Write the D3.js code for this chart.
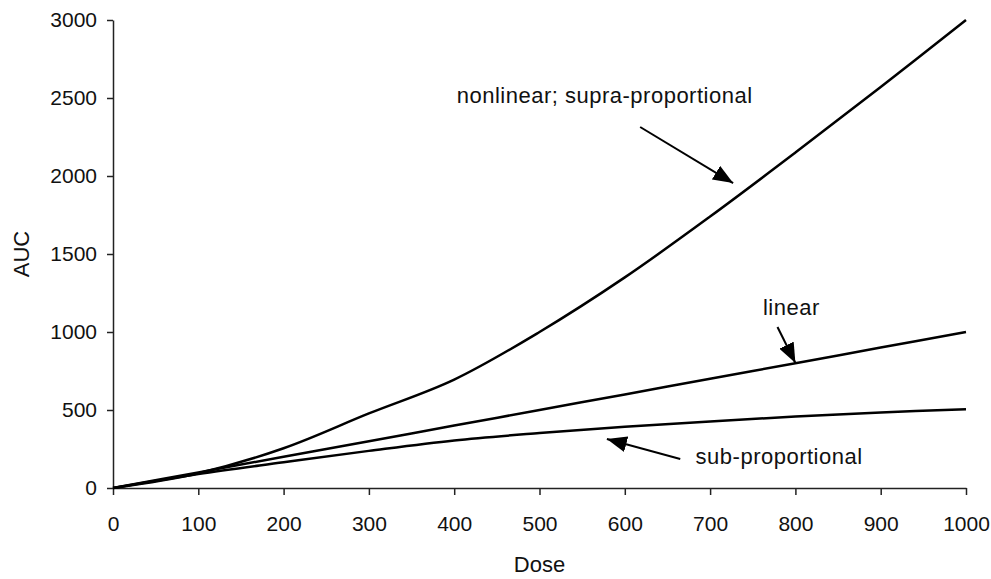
<!DOCTYPE html>
<html>
<head>
<meta charset="utf-8">
<script src="https://cdn.jsdelivr.net/npm/d3@7"></script>
<style>
    body { margin: 0; background: #fff; }
    svg { display: block; }
    text { font-family: Arial, "Liberation Sans", sans-serif; fill: #111; }
</style>
</head>
<body>
<svg width="991" height="579"></svg>
<script>
// dose levels and AUC
var doses = [0, 100, 200, 300, 400, 500, 600, 700, 800, 900, 1000];
var linearAUC = [0, 100, 200, 300, 400, 500, 600, 700, 800, 900, 1000];
var supraAUC = [0, 95, 255, 478, 695, 1000, 1350, 1740, 2150, 2570, 3000];
var subAUC = [0, 90, 165, 238, 305, 352, 392, 427, 458, 484, 505];

var xTicks = [0, 100, 200, 300, 400, 500, 600, 700, 800, 900, 1000];
var yTicks = [0, 500, 1000, 1500, 2000, 2500, 3000];

// annotations: label position, arrow start, arrow tip (dose, AUC)
var notes = [
    {label: "nonlinear; supra-proportional", lx: 403, ly: 2468, x1: 618, y1: 2314, x2: 727, y2: 1955},
    {label: "linear", lx: 762, ly: 1109, x1: 779, y1: 1032, x2: 800, y2: 801},
    {label: "sub-proportional", lx: 683, ly: 154, x1: 665, y1: 186, x2: 579, y2: 314}
];

var svg = d3.select("svg"),
    margin = {top: 20, right: 25, bottom: 91, left: 113},
    width = +svg.attr("width") - margin.left - margin.right,
    height = +svg.attr("height") - margin.top - margin.bottom;

var g = svg.append("g").attr("transform", "translate(" + margin.left + "," + margin.top + ")");

var x = d3.scaleLinear().domain([0, 1000]).range([0, width]);
var y = d3.scaleLinear().domain([0, 3000]).range([height, 0]);

var xAxis = g.append("g")
    .attr("transform", "translate(0," + height + ")")
    .call(d3.axisBottom(x).tickValues(xTicks).tickFormat(d3.format("d"))
        .tickSize(7).tickSizeOuter(0).tickPadding(21));

var yAxis = g.append("g")
    .call(d3.axisLeft(y).tickValues(yTicks).tickFormat(d3.format("d"))
        .tickSize(6).tickSizeOuter(0).tickPadding(10));

[xAxis, yAxis].forEach(function(a) {
    a.selectAll("path, line").attr("stroke", "#222").attr("stroke-width", 1.5);
    a.selectAll("text").style("font-size", "21px").attr("fill", "#111");
});

// axis titles
svg.append("text")
    .attr("x", margin.left + width / 2)
    .attr("y", 572)
    .attr("text-anchor", "middle")
    .style("font-size", "22px")
    .text("Dose");

svg.append("text")
    .attr("transform", "translate(29," + (margin.top + height / 2) + ") rotate(-90)")
    .attr("text-anchor", "middle")
    .style("font-size", "22px")
    .text("AUC");

var line = d3.line()
    .x(function(d) { return x(d[0]); })
    .y(function(d) { return y(d[1]); })
    .curve(d3.curveCatmullRom.alpha(0.5));

[supraAUC, linearAUC, subAUC].forEach(function(s) {
    g.append("path")
        .datum(doses.map(function(d, i) { return [d, s[i]]; }))
        .attr("fill", "none")
        .attr("stroke", "#000")
        .attr("stroke-width", 2.5)
        .attr("d", line);
});

svg.append("defs").append("marker")
    .attr("id", "head")
    .attr("markerUnits", "userSpaceOnUse")
    .attr("viewBox", "0 0 20 16")
    .attr("refX", 20)
    .attr("refY", 8)
    .attr("markerWidth", 20)
    .attr("markerHeight", 16)
    .attr("orient", "auto")
    .append("path")
    .attr("d", "M0,0L20,8L0,16Z")
    .attr("fill", "#000");

notes.forEach(function(n) {
    g.append("line")
        .attr("x1", x(n.x1)).attr("y1", y(n.y1))
        .attr("x2", x(n.x2)).attr("y2", y(n.y2))
        .attr("stroke", "#000")
        .attr("stroke-width", 2)
        .attr("marker-end", "url(#head)");
    g.append("text")
        .attr("x", x(n.lx))
        .attr("y", y(n.ly))
        .style("font-size", "22px")
        .style("letter-spacing", "0.5px")
        .text(n.label);
});
</script>
</body>
</html>
